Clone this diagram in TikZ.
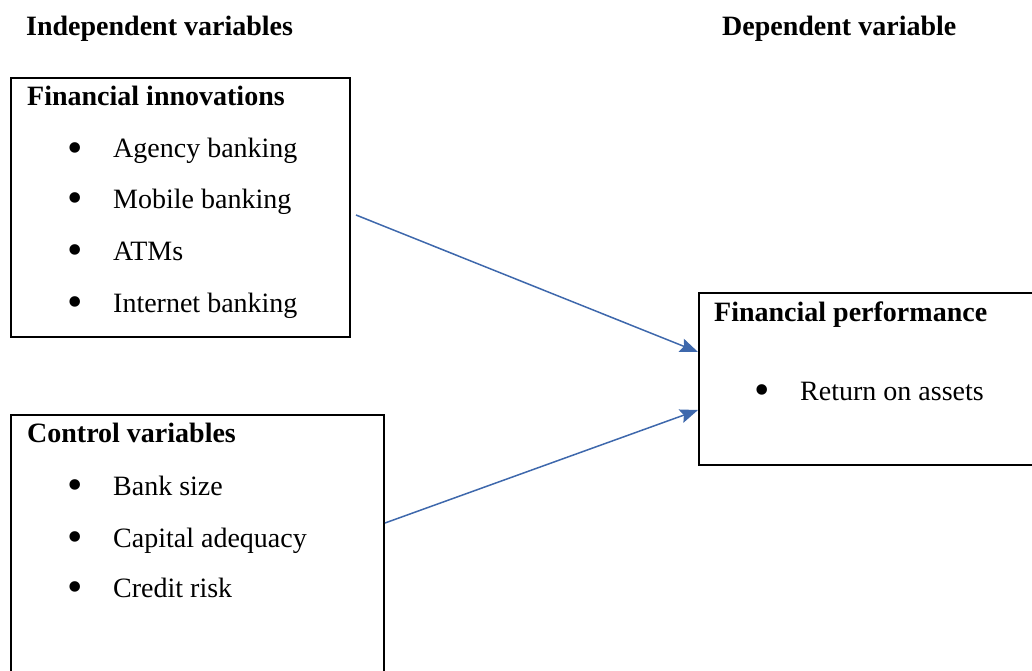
\documentclass[tikz,border=0pt]{standalone}
\usepackage{fontspec}
\setmainfont{Liberation Serif}
\usetikzlibrary{arrows.meta}
\definecolor{arrowblue}{RGB}{62,104,172}
\begin{document}
\begin{tikzpicture}[x=1pt,y=-1pt,
  box/.style={draw=black,line width=1.8pt},
  txt/.style={anchor=base west,inner sep=0pt,font=\fontsize{28}{32}\selectfont},
  head/.style={txt,font=\fontsize{28}{32}\selectfont\bfseries},
  bul/.style={anchor=center,inner sep=0pt,font=\fontsize{44}{44}\selectfont},
  conn/.style={draw=arrowblue,line width=1.5pt,-{Stealth[length=18pt,width=14pt,inset=3pt]}}]
\useasboundingbox (0,0) rectangle (1032,671);
% titles
\node[head] (tl) at (26,36) {Independent variables};
\node[head] (tr) at (722,36) {Dependent variable};
% boxes
\draw[box] (11,78) rectangle (350,337);
\coordinate (fiout) at (356,215);
\draw[box] (11,415) rectangle (384,680);
\coordinate (cvout) at (385,523);
\draw[box] (699,293) rectangle (1040,465);
\coordinate (fpin1) at (698,352);
\coordinate (fpin2) at (698,410);
% box 1 text
\node[head] (fih) at (27,106) {Financial innovations};
\node[bul] (b1) at (75,153) {•};
\node[txt] (t1) at (113,158) {Agency banking};
\node[bul] (b2) at (75,203) {•};
\node[txt] (t2) at (113,208) {Mobile banking};
\node[bul] (b3) at (75,255) {•};
\node[txt] (t3) at (113,260) {ATMs};
\node[bul] (b4) at (75,307) {•};
\node[txt] (t4) at (113,312) {Internet banking};
% box 2 text
\node[head] (cvh) at (27,442) {Control variables};
\node[bul] (c1) at (75,490) {•};
\node[txt] (u1) at (113,495) {Bank size};
\node[bul] (c2) at (75,542) {•};
\node[txt] (u2) at (113,547) {Capital adequacy};
\node[bul] (c3) at (75,592) {•};
\node[txt] (u3) at (113,597) {Credit risk};
% box 3 text
\node[head] (fph) at (714,321) {Financial performance};
\node[bul] (d1) at (762,395) {•};
\node[txt] (v1) at (800,400) {Return on assets};
% arrows
\draw[conn] (fiout) -- (fpin1);
\draw[conn] (cvout) -- (fpin2);
\end{tikzpicture}
\end{document}
